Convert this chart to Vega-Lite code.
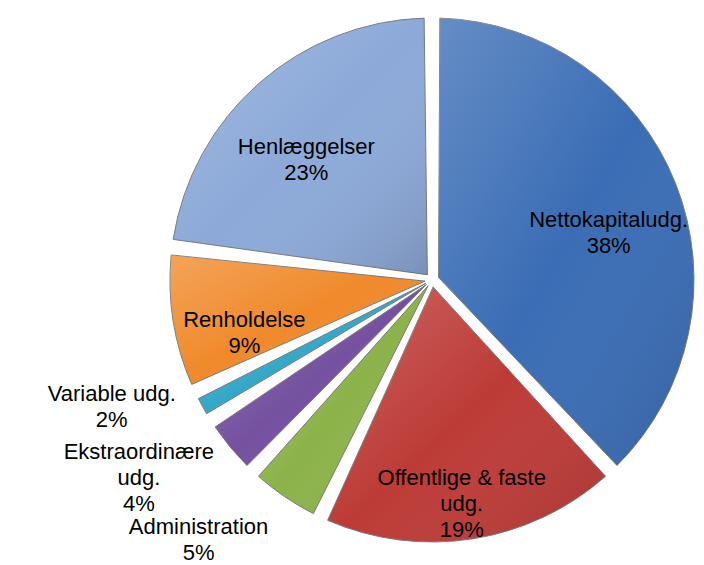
{
  "$schema": "https://vega.github.io/schema/vega-lite/v6.json",
  "width": 524,
  "height": 524,
  "autosize": {"type": "none"},
  "padding": {"left": 170, "top": 18, "right": 10, "bottom": 23},
  "background": "white",
  "config": {"view": {"stroke": null}},
  "data": {
    "values": [
      {"k": 1, "name": "Nettokapitaludg.", "value": 38, "label": "Nettokapitaludg.\n38%"},
      {"k": 2, "name": "Offentlige & faste udg.", "value": 19, "label": "Offentlige & faste\nudg.\n19%"},
      {"k": 3, "name": "Administration", "value": 5, "label": "Administration\n5%"},
      {"k": 4, "name": "Ekstraordinære udg.", "value": 4, "label": "Ekstraordinære\nudg.\n4%"},
      {"k": 5, "name": "Variable udg.", "value": 2, "label": "Variable udg.\n2%"},
      {"k": 6, "name": "Renholdelse", "value": 9, "label": "Renholdelse\n9%"},
      {"k": 7, "name": "Henlæggelser", "value": 23, "label": "Henlæggelser\n23%"}
    ]
  },
  "encoding": {
    "theta": {"field": "value", "type": "quantitative", "stack": true},
    "order": {"field": "k", "type": "quantitative"},
    "detail": {"field": "name", "type": "nominal"}
  },
  "layer": [
    {
      "mark": {"type": "arc", "outerRadius": 262, "innerRadius": 7, "padAngle": 0.06, "stroke": "#7a7a7a", "strokeWidth": 1},
      "encoding": {
        "color": {
          "field": "name",
          "type": "nominal",
          "scale": {
            "domain": ["Nettokapitaludg.", "Offentlige & faste udg.", "Administration", "Ekstraordinære udg.", "Variable udg.", "Renholdelse", "Henlæggelser"],
            "range": ["#3A6DB5", "#BD3B37", "#8BB34A", "#7551A0", "#35A8C8", "#F08A2B", "#8CA9D8"]
          },
          "legend": null
        }
      }
    },
    {
      "mark": {
        "type": "arc",
        "outerRadius": 262,
        "innerRadius": 7,
        "padAngle": 0.06,
        "fill": {
          "gradient": "linear",
          "x1": 0, "y1": 0, "x2": 1, "y2": 1,
          "stops": [
            {"offset": 0, "color": "rgba(255,255,255,0.22)"},
            {"offset": 0.5, "color": "rgba(255,255,255,0)"},
            {"offset": 1, "color": "rgba(0,0,0,0.14)"}
          ]
        },
        "stroke": null
      }
    },
    {
      "mark": {"type": "text", "radius": 190, "dy": 10, "fontSize": 22, "font": "Liberation Sans", "lineBreak": "\n", "lineHeight": 26, "align": "center", "baseline": "middle", "color": "black"},
      "encoding": {
        "text": {"condition": {"test": "datum.value >= 9", "field": "label", "type": "nominal"}, "value": ""}
      }
    },
    {
      "mark": {"type": "text", "radius": 340, "thetaOffset": 0.16, "fontSize": 22, "font": "Liberation Sans", "lineBreak": "\n", "lineHeight": 26, "align": "center", "baseline": "middle", "color": "black"},
      "encoding": {
        "text": {"condition": {"test": "datum.value < 9", "field": "label", "type": "nominal"}, "value": ""}
      }
    }
  ]
}
